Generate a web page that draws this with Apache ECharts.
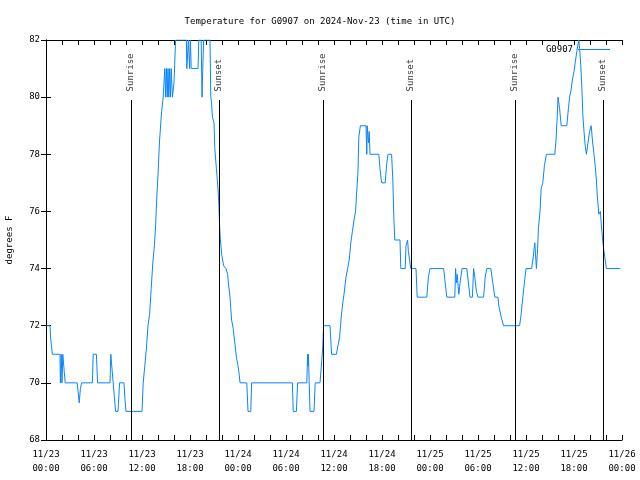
<!DOCTYPE html>
<html>
<head>
<meta charset="utf-8">
<script src="https://cdn.jsdelivr.net/npm/echarts@6/dist/echarts.min.js"></script>
<style>html,body{margin:0;padding:0;background:#fff;}#c{width:640px;height:480px;}</style>
</head>
<body>
<div id="c"></div>
<script>
// Hours since 2024-11-23 00:00 UTC
const hours = [
0.05,0.5,0.6,0.8,1.75,1.8,1.9,2.0,2.1,2.3,2.4,2.5,3.9,4.05,4.15,4.3,4.45,5.8,5.9,6.3,6.45,8.0,8.1,8.3,8.4,8.55,8.7,9.0,9.2,9.75,9.85,10.0,12.0,
12.15,12.35,12.55,12.75,12.95,13.15,13.35,13.55,13.7,13.85,14.0,14.2,14.45,14.65,14.8,14.85,14.95,15.05,15.15,15.25,15.35,15.45,15.55,15.65,15.8,16.0,16.2,
17.55,17.6,17.75,17.8,17.9,17.95,18.05,18.15,18.4,19.0,19.1,19.4,19.5,19.6,19.7,20.5,
20.55,20.6,20.7,20.8,21.0,21.1,21.3,21.5,21.6,21.7,21.8,21.96,22.2,22.5,22.7,22.8,23.0,23.1,23.2,23.4,23.6,23.8,24.0,24.15,24.25,
25.1,25.25,25.6,25.7,30.8,30.9,31.3,31.45,32.6,32.7,32.75,32.8,32.9,33.0,33.5,33.65,34.25,34.45,34.6,34.7,35.5,35.7,36.3,
36.5,36.7,36.9,37.1,37.25,37.5,37.7,37.9,38.1,38.3,38.5,38.7,38.8,39.0,39.1,39.3,40.0,40.1,40.15,40.3,40.4,40.5,41.6,41.75,41.95,42.4,42.6,42.75,43.2,43.35,43.5,43.6,44.25,44.35,44.9,45.0,45.2,45.3,45.45,45.6,46.25,46.4,47.6,47.8,48.0,
49.7,49.9,50.1,51.1,51.2,51.3,51.4,51.6,51.8,52.0,52.6,52.8,53.0,53.3,53.45,53.6,53.8,54.0,54.7,54.9,55.1,55.6,55.85,56.1,56.5,56.6,56.9,57.2,59.2,
59.35,59.6,59.8,60.0,60.7,60.9,61.1,61.3,61.45,61.55,61.75,61.9,62.1,62.3,62.55,63.6,63.75,63.9,64.0,64.2,64.4,65.1,65.3,65.45,65.6,65.8,66.0,66.15,66.35,66.6,
66.7,66.85,67.0,67.1,67.25,67.4,67.55,67.8,67.95,68.15,68.3,68.5,68.65,68.8,68.9,69.1,69.3,69.4,69.55,69.7,69.85,70.05,71.8
];
// Temperature, degrees F
const temps = [
72,72,71.5,71,71,70,71,70,71,71,70,70,70,69.6,69.3,69.8,70,70,71,71,70,70,71,71,70,69.5,69,69,70,70,69.5,69,69,
70,70.6,71.2,72,72.4,73.3,74.2,74.8,75.5,76.5,77.3,78.5,79.5,80,80,81,80,81,80,81,80,81,80,81,80,80.5,82,
82,81,81,82,82,81,82,81,81,81,82,82,80,80,82,82,
81,80,79.8,79.3,79.1,78.2,77.5,76.8,76.3,75.5,75,74.5,74.1,74,73.8,73.5,73,72.6,72.2,71.9,71.4,70.9,70.6,70.3,70,
70,69,69,70,70,69,69,70,70,71,70.6,71,70,69,69,70,70,70.7,71.3,72,72,71,71,
71.3,71.6,72.3,72.8,73.1,73.7,74,74.3,74.9,75.3,75.7,76,76.5,77.4,78.6,79,79,78,79,78.4,78.8,78,78,77.5,77,77,77.7,78,78,77.1,75.6,75,75,74,74,74.8,75,74.6,74.3,74,74,73,73,73.7,74,
74,73.5,73,73,74,73.5,73.8,73.1,73.6,74,74,73.5,73,73,74,73.7,73.2,73,73,73.7,74,74,73.5,73,73,72.7,72.3,72,72,
72.3,73,73.5,74,74,74.4,74.9,74,74.7,75.4,76,76.8,77,77.6,78,78,78.5,79.3,80,79.6,79,79,79.6,80,80.2,80.6,80.9,81.2,81.6,82,
81.7,81.1,80.2,79.4,78.8,78.3,78,78.5,78.8,79,78.5,78,77.6,77.1,76.6,75.9,76,75.6,75.1,74.7,74.4,74,74
];
const sunEvents = [10.6, 21.6, 34.6, 45.6, 58.6, 69.6];
const sunLabels = ['Sunrise', 'Sunset', 'Sunrise', 'Sunset', 'Sunrise', 'Sunset'];
const dayLabels = {0:'11/23',6:'11/23',12:'11/23',18:'11/23',24:'11/24',30:'11/24',36:'11/24',42:'11/24',48:'11/25',54:'11/25',60:'11/25',66:'11/25',72:'11/26'};
const yTicks = [68, 70, 72, 74, 76, 78, 80, 82];

const FONT = '"DejaVu Sans Mono", "Liberation Mono", monospace';
const LINE_COLOR = '#0a84ff';
const chart = echarts.init(document.getElementById('c'), null, {renderer: 'canvas'});
const pts = hours.map((h, i) => [h, temps[i]]);
function fmtX(v) {
  if (Math.abs(v % 6) > 1e-6) return '';
  const hh = ((v % 24) + 24) % 24;
  return dayLabels[v] + '\n' + (hh < 10 ? '0' : '') + hh + ':00';
}
const axisCommon = {
  type: 'value', min: 0, max: 72, interval: 2,
  axisLine: {show: true, lineStyle: {color: '#000', width: 1}},
  axisTick: {show: true, inside: true, length: 5, lineStyle: {color: '#000'}},
  splitLine: {show: false}
};
const yCommon = {
  type: 'value', min: 68, max: 82, interval: 2,
  axisLine: {show: true, lineStyle: {color: '#000', width: 1}},
  axisTick: {show: true, inside: true, length: 5, lineStyle: {color: '#000'}},
  splitLine: {show: false}
};
chart.setOption({
  animation: false,
  backgroundColor: '#fff',
  title: {
    text: 'Temperature for G0907 on 2024-Nov-23 (time in UTC)',
    left: 'center', top: 12,
    textStyle: {fontFamily: FONT, fontSize: 9, fontWeight: 'normal', color: '#000'}
  },
  legend: {
    data: [{name: 'G0907', icon: 'path://M0,0H32V1H0Z', itemStyle: {color: LINE_COLOR}}],
    right: 30, top: 45, align: 'right', padding: 0,
    itemWidth: 32, itemHeight: 1, itemGap: 4,
    textStyle: {fontFamily: FONT, fontSize: 9, color: '#000', padding: [0, 0, 0, 0]}
  },
  grid: {left: 46, right: 18, top: 40, bottom: 40, containLabel: false, outerBoundsMode: 'none'},
  xAxis: [
    Object.assign({}, axisCommon, {position: 'bottom',
      axisLabel: {show: true, formatter: fmtX, margin: 8, fontFamily: FONT, fontSize: 9, color: '#000', lineHeight: 14, showMinLabel: true, showMaxLabel: true}}),
    Object.assign({}, axisCommon, {position: 'top', axisLabel: {show: false}})
  ],
  yAxis: [
    Object.assign({}, yCommon, {position: 'left', name: 'degrees F', nameLocation: 'middle', nameGap: 32,
      nameTextStyle: {fontFamily: FONT, fontSize: 9, color: '#000'},
      axisLabel: {show: true, margin: 6, fontFamily: FONT, fontSize: 9, color: '#000',
        formatter: v => yTicks.indexOf(v) >= 0 ? String(v) : ''}}),
    Object.assign({}, yCommon, {position: 'right', axisLabel: {show: false}})
  ],
  series: [
    {
      name: 'G0907', type: 'line', xAxisIndex: 0, yAxisIndex: 0,
      data: pts, symbol: 'none', showSymbol: false, clip: true,
      lineStyle: {color: LINE_COLOR, width: 1}, itemStyle: {color: LINE_COLOR},
      markLine: {
        silent: true, symbol: 'none', animation: false,
        label: {show: false},
        lineStyle: {color: '#000', width: 1, type: 'solid'},
        data: sunEvents.map(h => [{coord: [h, 68]}, {coord: [h, 79.9]}])
      }
    },
    {
      name: 'sunlabels', type: 'scatter', xAxisIndex: 0, yAxisIndex: 0,
      symbolSize: 0, silent: true,
      data: sunEvents.map(h => [h, 80.2]),
      label: {
        show: true, position: 'inside', rotate: 90, align: 'left', verticalAlign: 'middle',
        fontFamily: FONT, fontSize: 9, color: '#000',
        formatter: p => sunLabels[p.dataIndex]
      }
    }
  ]
});
</script>
</body>
</html>
